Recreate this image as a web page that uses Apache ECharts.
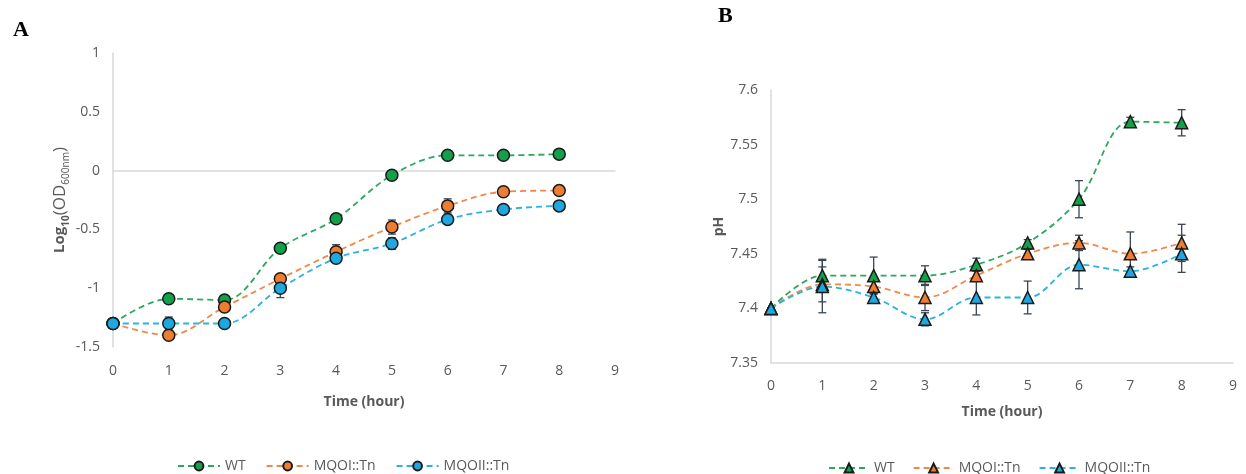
<!DOCTYPE html>
<html>
<head>
<meta charset="utf-8">
<script src="https://cdn.jsdelivr.net/npm/echarts@6/dist/echarts.min.js"></script>
<style>
  html, body { margin: 0; padding: 0; background: #fff; }
  #plot { width: 1246px; height: 474px; }
</style>
</head>
<body>
<div id="plot"></div>
<script>
const hours = [0, 1, 2, 3, 4, 5, 6, 7, 8];
const seriesNames = ["WT", "MQOI::Tn", "MQOII::Tn"];

// panel A: log10(OD600nm)
const odWT = [-1.3, -1.09, -1.1, -0.66, -0.41, -0.04, 0.13, 0.13, 0.14];
const odMQOI = [-1.3, -1.4, -1.16, -0.92, -0.69, -0.48, -0.3, -0.18, -0.17];
const odMQOII = [-1.3, -1.3, -1.3, -1.0, -0.745, -0.62, -0.415, -0.33, -0.3];
const odErrWT = [0, 0.01, 0.02, 0.03, 0.02, 0.01, 0.01, 0.01, 0.01];
const odErrMQOI = [0, 0.03, 0.04, 0.03, 0.06, 0.06, 0.06, 0.02, 0.02];
const odErrMQOII = [0, 0.055, 0.02, 0.08, 0.03, 0.05, 0.02, 0.01, 0.01];

// panel B: pH
const phWT = [7.4, 7.43, 7.43, 7.43, 7.44, 7.46, 7.5, 7.571, 7.57];
const phMQOI = [7.4, 7.422, 7.42, 7.41, 7.43, 7.45, 7.46, 7.45, 7.46];
const phMQOII = [7.4, 7.42, 7.41, 7.39, 7.41, 7.41, 7.44, 7.434, 7.45];
const phErrWT = [0, 0.015, 0.017, 0.009, 0.006, 0.003, 0.017, 0.004, 0.012];
const phErrMQOI = [0, 0.016, 0.006, 0.012, 0.005, 0.004, 0.007, 0.02, 0.017];
const phErrMQOII = [0, 0.024, 0.004, 0.006, 0.016, 0.015, 0.022, 0.004, 0.017];

const lineColors = ["#2aa860", "#f08848", "#2ab3de"];
const fillColors = ["#13a04a", "#ed7d31", "#1ea8e0"];
const textColor = "#595959";
const errColor = "#3a4656";

function pairs(ys) {
  return hours.map(function (h, i) { return [h, ys[i]]; });
}

function errData(ys, errs) {
  return hours.map(function (h, i) { return [h, ys[i] - errs[i], ys[i] + errs[i]]; });
}

function errSeries(ys, errs, idx) {
  return {
    type: "custom",
    xAxisIndex: idx,
    yAxisIndex: idx,
    z: 1,
    silent: true,
    data: errData(ys, errs),
    renderItem: function (params, api) {
      const lo = api.coord([api.value(0), api.value(1)]);
      const hi = api.coord([api.value(0), api.value(2)]);
      const w = 4;
      const st = { stroke: errColor, lineWidth: 1.3 };
      return {
        type: "group",
        children: [
          { type: "line", shape: { x1: lo[0], y1: lo[1], x2: hi[0], y2: hi[1] }, style: st },
          { type: "line", shape: { x1: lo[0] - w, y1: lo[1], x2: lo[0] + w, y2: lo[1] }, style: st },
          { type: "line", shape: { x1: hi[0] - w, y1: hi[1], x2: hi[0] + w, y2: hi[1] }, style: st },
        ],
      };
    },
  };
}

function lineSeries(name, ys, k, idx, symbol) {
  return {
    name: name,
    type: "line",
    xAxisIndex: idx,
    yAxisIndex: idx,
    z: 3,
    smooth: 0.35,
    data: pairs(ys),
    symbol: symbol,
    symbolSize: 12,
    lineStyle: { color: lineColors[k], width: 1.8, type: [6, 4] },
    itemStyle: { color: fillColors[k], borderColor: "#1a1a1a", borderWidth: 1.5 },
  };
}

const axisLabel = { color: textColor, fontSize: 14, fontFamily: "Open Sans" };
const axisLine = { show: true, lineStyle: { color: "#d9d9d9", width: 1.5 } };
const legendText = { color: textColor, fontSize: 14, fontFamily: "Open Sans" };

const myChart = echarts.init(document.getElementById("plot"));
const option = {
  animation: false,
  backgroundColor: "#fff",
  title: [
    { text: "A", left: 8, top: 14, textStyle: { fontFamily: "Liberation Serif", fontSize: 22, fontWeight: "bold", color: "#000" } },
    { text: "B", left: 713, top: 0, textStyle: { fontFamily: "Liberation Serif", fontSize: 22, fontWeight: "bold", color: "#000" } },
  ],
  legend: [
    {
      data: seriesNames,
      left: 172,
      top: 454,
      itemWidth: 42,
      itemHeight: 11,
      itemGap: 20,
      textStyle: legendText,
    },
    {
      data: seriesNames.map(function (n) { return n + " "; }),
      formatter: function (n) { return n.trim(); },
      left: 823,
      top: 456,
      itemWidth: 40,
      itemHeight: 11,
      itemGap: 18,
      textStyle: legendText,
    },
  ],
  grid: [
    { left: 113, top: 53, width: 502, height: 294 },
    { left: 771, top: 90, width: 462, height: 273 },
  ],
  xAxis: [
    {
      gridIndex: 0, type: "value", min: 0, max: 9, interval: 1,
      axisLine: axisLine, axisTick: { show: false }, splitLine: { show: false },
      axisLabel: Object.assign({ margin: 17 }, axisLabel),
      name: "Time (hour)", nameLocation: "middle", nameGap: 48,
      nameTextStyle: { color: textColor, fontSize: 14, fontWeight: "bold", fontFamily: "Open Sans" },
    },
    {
      gridIndex: 1, type: "value", min: 0, max: 9, interval: 1,
      axisLine: axisLine, axisTick: { show: false }, splitLine: { show: false },
      axisLabel: Object.assign({ margin: 16 }, axisLabel),
      name: "Time (hour)", nameLocation: "middle", nameGap: 42,
      nameTextStyle: { color: textColor, fontSize: 14, fontWeight: "bold", fontFamily: "Open Sans" },
    },
  ],
  yAxis: [
    {
      gridIndex: 0, type: "value", min: -1.5, max: 1, interval: 0.5,
      axisLine: axisLine, axisTick: { show: false }, splitLine: { show: false },
      axisLabel: Object.assign({ margin: 13 }, axisLabel),
      name: "{b|Log}{bs|10}{r|(OD}{s|600nm}{r|)}",
      nameLocation: "middle", nameGap: 42,
      nameTextStyle: {
        color: textColor,
        rich: {
          b: { fontSize: 15, fontWeight: "bold", fontFamily: "Open Sans", color: textColor, lineHeight: 22, verticalAlign: "middle" },
          bs: { fontSize: 10, fontWeight: "bold", fontFamily: "Open Sans", color: textColor, lineHeight: 22, verticalAlign: "bottom", padding: [7, 0, 0, 0] },
          r: { fontSize: 17, fontFamily: "Open Sans", color: textColor, lineHeight: 22, verticalAlign: "middle" },
          s: { fontSize: 10, fontFamily: "Open Sans", color: textColor, lineHeight: 22, verticalAlign: "bottom", padding: [7, 0, 0, 0] },
        },
      },
    },
    {
      gridIndex: 1, type: "value", min: 7.35, max: 7.6, interval: 0.05,
      axisLine: axisLine, axisTick: { show: false }, splitLine: { show: false },
      axisLabel: Object.assign({ margin: 13 }, axisLabel),
      name: "pH", nameLocation: "middle", nameGap: 42,
      nameTextStyle: { color: textColor, fontSize: 14, fontWeight: "bold", fontFamily: "Open Sans" },
    },
  ],
  series: [
    errSeries(odWT, odErrWT, 0),
    errSeries(odMQOI, odErrMQOI, 0),
    errSeries(odMQOII, odErrMQOII, 0),
    lineSeries("WT", odWT, 0, 0, "circle"),
    lineSeries("MQOI::Tn", odMQOI, 1, 0, "circle"),
    lineSeries("MQOII::Tn", odMQOII, 2, 0, "circle"),
    errSeries(phWT, phErrWT, 1),
    errSeries(phMQOI, phErrMQOI, 1),
    errSeries(phMQOII, phErrMQOII, 1),
    lineSeries("WT ", phWT, 0, 1, "triangle"),
    lineSeries("MQOI::Tn ", phMQOI, 1, 1, "triangle"),
    lineSeries("MQOII::Tn ", phMQOII, 2, 1, "triangle"),
  ],
};
myChart.setOption(option);
</script>
</body>
</html>
